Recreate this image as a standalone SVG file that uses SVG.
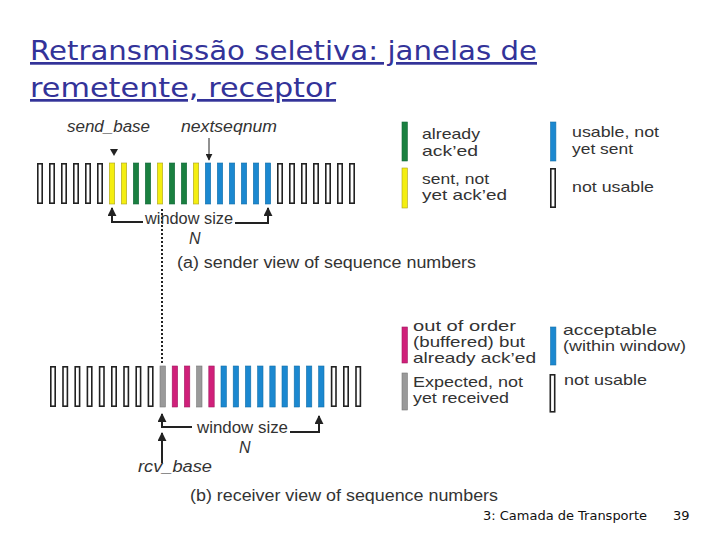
<svg xmlns="http://www.w3.org/2000/svg" width="720" height="540" viewBox="0 0 720 540">
<style>
.t{font-family:"Liberation Sans",Arial,sans-serif;font-size:16px;fill:#333}
.s{font-size:14.5px}
.i{font-style:italic}
.ttl{font-family:"DejaVu Sans","Liberation Sans",sans-serif;font-size:27px;fill:#333399;text-decoration:underline}
.ft{font-family:"DejaVu Sans","Liberation Sans",sans-serif;font-size:13px;fill:#111}
.o{fill:#fff;stroke:#222;stroke-width:1.6}
.g{fill:#1a8040;stroke:#13663a;stroke-width:0.6}
.y{fill:#f4ee10;stroke:#a9a020;stroke-width:0.6}
.b{fill:#1b88d0;stroke:#1570a8;stroke-width:0.6}
.m{fill:#d0207a;stroke:#a01860;stroke-width:0.6}
.gr{fill:#9a9a9a;stroke:#777;stroke-width:0.6}
.arr{fill:none;stroke:#222;stroke-width:2}
.thin{fill:none;stroke:#222;stroke-width:1}
</style>
<defs>
<marker id="ah" viewBox="0 0 10 10" refX="9" refY="5" markerUnits="userSpaceOnUse" markerWidth="9" markerHeight="9" orient="auto">
<path d="M0,0 L10,5 L0,10 z" fill="#222"/>
</marker>
<marker id="ahs" viewBox="0 0 10 10" refX="9" refY="5" markerUnits="userSpaceOnUse" markerWidth="7" markerHeight="7" orient="auto">
<path d="M0,0 L10,5 L0,10 z" fill="#222"/>
</marker>
</defs>

<g id="title">
<text class="ttl" x="30" y="60" textLength="507" lengthAdjust="spacingAndGlyphs">Retransmissão seletiva: janelas de</text>
<text class="ttl" x="30" y="97" textLength="306" lengthAdjust="spacingAndGlyphs">remetente, receptor</text>
</g>

<g id="sender-bars">
<rect class="o" x="37.8" y="163.8" width="4.4" height="39.4"/>
<rect class="o" x="49.8" y="163.8" width="4.4" height="39.4"/>
<rect class="o" x="61.8" y="163.8" width="4.4" height="39.4"/>
<rect class="o" x="73.8" y="163.8" width="4.4" height="39.4"/>
<rect class="o" x="85.8" y="163.8" width="4.4" height="39.4"/>
<rect class="o" x="97.8" y="163.8" width="4.4" height="39.4"/>
<rect class="y" x="109.3" y="163" width="5.4" height="41"/>
<rect class="y" x="121.3" y="163" width="5.4" height="41"/>
<rect class="g" x="133.3" y="163" width="5.4" height="41"/>
<rect class="g" x="145.3" y="163" width="5.4" height="41"/>
<rect class="y" x="157.3" y="163" width="5.4" height="41"/>
<rect class="g" x="169.3" y="163" width="5.4" height="41"/>
<rect class="g" x="181.3" y="163" width="5.4" height="41"/>
<rect class="y" x="193.3" y="163" width="5.4" height="41"/>
<rect class="b" x="205.3" y="163" width="5.4" height="41"/>
<rect class="b" x="217.3" y="163" width="5.4" height="41"/>
<rect class="b" x="229.3" y="163" width="5.4" height="41"/>
<rect class="b" x="241.3" y="163" width="5.4" height="41"/>
<rect class="b" x="253.3" y="163" width="5.4" height="41"/>
<rect class="b" x="265.3" y="163" width="5.4" height="41"/>
<rect class="o" x="277.8" y="163.8" width="4.4" height="39.4"/>
<rect class="o" x="289.8" y="163.8" width="4.4" height="39.4"/>
<rect class="o" x="301.8" y="163.8" width="4.4" height="39.4"/>
<rect class="o" x="313.8" y="163.8" width="4.4" height="39.4"/>
<rect class="o" x="325.8" y="163.8" width="4.4" height="39.4"/>
<rect class="o" x="337.8" y="163.8" width="4.4" height="39.4"/>
<rect class="o" x="349.8" y="163.8" width="4.4" height="39.4"/>
</g>

<g id="receiver-bars">
<rect class="o" x="50.8" y="366.8" width="4.4" height="39.4"/>
<rect class="o" x="63" y="366.8" width="4.4" height="39.4"/>
<rect class="o" x="75.2" y="366.8" width="4.4" height="39.4"/>
<rect class="o" x="87.4" y="366.8" width="4.4" height="39.4"/>
<rect class="o" x="99.6" y="366.8" width="4.4" height="39.4"/>
<rect class="o" x="111.8" y="366.8" width="4.4" height="39.4"/>
<rect class="o" x="124" y="366.8" width="4.4" height="39.4"/>
<rect class="o" x="136.2" y="366.8" width="4.4" height="39.4"/>
<rect class="o" x="148.4" y="366.8" width="4.4" height="39.4"/>
<rect class="gr" x="160" y="366" width="5.4" height="41"/>
<rect class="m" x="172.2" y="366" width="5.4" height="41"/>
<rect class="m" x="184.4" y="366" width="5.4" height="41"/>
<rect class="gr" x="196.6" y="366" width="5.4" height="41"/>
<rect class="m" x="208.8" y="366" width="5.4" height="41"/>
<rect class="b" x="221" y="366" width="5.4" height="41"/>
<rect class="b" x="233.2" y="366" width="5.4" height="41"/>
<rect class="b" x="245.4" y="366" width="5.4" height="41"/>
<rect class="b" x="257.6" y="366" width="5.4" height="41"/>
<rect class="b" x="269.8" y="366" width="5.4" height="41"/>
<rect class="b" x="282" y="366" width="5.4" height="41"/>
<rect class="b" x="294.2" y="366" width="5.4" height="41"/>
<rect class="b" x="306.4" y="366" width="5.4" height="41"/>
<rect class="b" x="318.6" y="366" width="5.4" height="41"/>
<rect class="o" x="331.6" y="366.8" width="4.4" height="39.4"/>
<rect class="o" x="343.8" y="366.8" width="4.4" height="39.4"/>
<rect class="o" x="356" y="366.8" width="4.4" height="39.4"/>
</g>

<g id="connectors">
<polygon points="110,149 118,149 114,156" fill="#222"/>
<path class="thin" d="M209,138 V160" marker-end="url(#ahs)"/>
<path class="arr" d="M143,222 H112 V208" marker-end="url(#ah)"/>
<path class="arr" d="M235,223 H268 V208" marker-end="url(#ah)"/>
<path d="M162,209 V364" fill="none" stroke="#222" stroke-width="2" stroke-dasharray="2,2"/>
<path class="arr" d="M192,427 H162 V414" marker-end="url(#ah)"/>
<path class="arr" d="M290,432 H319 V416" marker-end="url(#ah)"/>
<path class="arr" d="M162,463 V433" marker-end="url(#ah)"/>
</g>

<g id="sender-labels">
<text class="t i" x="67" y="132" textLength="83" lengthAdjust="spacingAndGlyphs">send_base</text>
<text class="t i" x="181" y="132" textLength="96" lengthAdjust="spacingAndGlyphs">nextseqnum</text>
<text class="t" x="145" y="224" textLength="88" lengthAdjust="spacingAndGlyphs">window size</text>
<text class="t i" x="189" y="244">N</text>
<text class="t" x="177" y="268" textLength="299" lengthAdjust="spacingAndGlyphs">(a) sender view of sequence numbers</text>
</g>

<g id="receiver-labels">
<text class="t" x="197" y="433" textLength="91" lengthAdjust="spacingAndGlyphs">window size</text>
<text class="t i" x="239" y="453">N</text>
<text class="t i" x="138" y="472" textLength="74" lengthAdjust="spacingAndGlyphs">rcv_base</text>
<text class="t" x="190" y="501" textLength="308" lengthAdjust="spacingAndGlyphs">(b) receiver view of sequence numbers</text>
</g>

<g id="legend-already-acked">
<rect class="g" x="402" y="122" width="5.4" height="39"/>
<text class="t s" x="422" y="139" textLength="58" lengthAdjust="spacingAndGlyphs">already</text>
<text class="t s" x="422" y="156" textLength="56" lengthAdjust="spacingAndGlyphs">ack’ed</text>
</g>
<g id="legend-usable">
<rect class="b" x="550.5" y="122" width="5.4" height="39"/>
<text class="t s" x="572" y="137" textLength="87" lengthAdjust="spacingAndGlyphs">usable, not</text>
<text class="t s" x="572" y="154" textLength="61" lengthAdjust="spacingAndGlyphs">yet sent</text>
</g>
<g id="legend-sent">
<rect class="y" x="402" y="168" width="5.4" height="40"/>
<text class="t s" x="422" y="184" textLength="67" lengthAdjust="spacingAndGlyphs">sent, not</text>
<text class="t s" x="422" y="200" textLength="85" lengthAdjust="spacingAndGlyphs">yet ack’ed</text>
</g>
<g id="legend-not-usable-s">
<rect class="o" x="550.8" y="168.8" width="4.4" height="38.4"/>
<text class="t s" x="572" y="192" textLength="82" lengthAdjust="spacingAndGlyphs">not usable</text>
</g>

<g id="legend-out-of-order">
<rect class="m" x="402" y="327" width="5.4" height="36"/>
<text class="t s" x="413" y="331" textLength="103" lengthAdjust="spacingAndGlyphs">out of order</text>
<text class="t s" x="413" y="347" textLength="112" lengthAdjust="spacingAndGlyphs">(buffered) but</text>
<text class="t s" x="413" y="363" textLength="123" lengthAdjust="spacingAndGlyphs">already ack’ed</text>
</g>
<g id="legend-acceptable">
<rect class="b" x="550.5" y="327" width="5.4" height="38"/>
<text class="t s" x="563" y="335" textLength="94" lengthAdjust="spacingAndGlyphs">acceptable</text>
<text class="t s" x="563" y="351" textLength="123" lengthAdjust="spacingAndGlyphs">(within window)</text>
</g>
<g id="legend-expected">
<rect class="gr" x="402" y="373" width="5.4" height="37"/>
<text class="t s" x="413" y="387" textLength="110" lengthAdjust="spacingAndGlyphs">Expected, not</text>
<text class="t s" x="413" y="403" textLength="96" lengthAdjust="spacingAndGlyphs">yet received</text>
</g>
<g id="legend-not-usable-r">
<rect class="o" x="550.3" y="374.8" width="4.4" height="37"/>
<text class="t s" x="564" y="385" textLength="83" lengthAdjust="spacingAndGlyphs">not usable</text>
</g>

<g id="footer">
<text class="ft" x="483" y="520" textLength="164" lengthAdjust="spacingAndGlyphs">3: Camada de Transporte</text>
<text class="ft" x="673" y="520">39</text>
</g>
</svg>
